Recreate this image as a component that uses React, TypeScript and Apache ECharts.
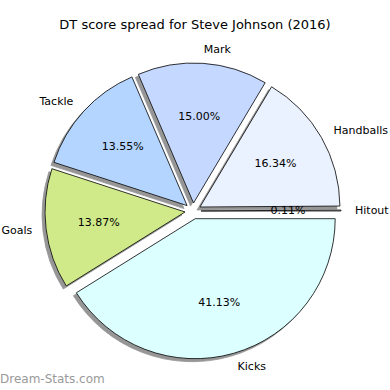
import React, { useEffect, useRef } from "react";
import * as echarts from "echarts";

const titleText = "DT score spread for Steve Johnson (2016)";
const categories = ["Hitout", "Handballs", "Mark", "Tackle", "Goals", "Kicks"];
const shares = [0.11, 16.34, 15.0, 13.55, 13.87, 41.13];
const colors = ["#d9d9d9", "#eaf1ff", "#c5d8ff", "#b4d5ff", "#d0ea8a", "#dcffff"];
const watermark = "Dream-Stats.com";

const FONT = "DejaVu Sans";

export default function App() {
  const ref = useRef<HTMLDivElement>(null);
  useEffect(() => {
    if (!ref.current) return;
    const chart = echarts.init(ref.current, null, { renderer: "svg" });
    const center = [193, 211];
    const R = 140;
    const slices = categories.map((name, i) => ({
      name,
      value: shares[i],
      selected: true,
      itemStyle: { color: colors[i] },
    }));
    const overlay = categories.map((name, i) => ({
      name,
      value: shares[i],
      selected: true,
    }));
    chart.setOption({
      animation: false,
      backgroundColor: "#ffffff",
      title: {
        text: titleText,
        left: "center",
        top: 18,
        padding: 0,
        textStyle: { fontFamily: FONT, fontSize: 13, fontWeight: "normal", color: "#000" },
      },
      graphic: [
        {
          type: "text",
          left: 0,
          top: 373,
          style: { text: watermark, fill: "#9a9a9a", font: `12px '${FONT}'` },
        },
      ],
      series: [
        {
          type: "pie",
          center,
          radius: [0, R],
          clockwise: false,
          startAngle: 0,
          silent: true,
          avoidLabelOverlap: false,
          selectedMode: "multiple",
          selectedOffset: 8,
          emphasis: { disabled: true },
          itemStyle: {
            borderColor: "#000",
            borderWidth: 0.8,
            shadowColor: "rgba(60,60,60,0.55)",
            shadowBlur: 0,
            shadowOffsetX: -3,
            shadowOffsetY: 3,
          },
          select: {
            itemStyle: {
              borderColor: "#000",
              borderWidth: 0.8,
            },
          },
          label: {
            show: true,
            position: "outside",
            distanceToLabelLine: 0,
            fontFamily: FONT,
            fontSize: 11,
            color: "#000",
            formatter: "{b}",
          },
          labelLine: { show: false, length: 14, length2: 0 },
          data: slices,
        },
        {
          type: "pie",
          center,
          radius: [28, R],
          clockwise: false,
          startAngle: 0,
          silent: true,
          z: 3,
          avoidLabelOverlap: false,
          selectedMode: "multiple",
          selectedOffset: 8,
          emphasis: { disabled: true },
          itemStyle: { color: "rgba(0,0,0,0)", borderWidth: 0 },
          select: { itemStyle: { color: "rgba(0,0,0,0)", borderWidth: 0 } },
          label: {
            show: true,
            position: "inside",
            fontFamily: FONT,
            fontSize: 11,
            color: "#000",
            formatter: (p: any) => Number(p.value).toFixed(2) + "%",
          },
          labelLine: { show: false },
          data: overlay,
        },
      ],
    });
    return () => chart.dispose();
  }, []);
  return (
    <div
      ref={ref}
      style={{ position: "fixed", left: 0, top: 0, width: 390, height: 390 }}
    />
  );
}
